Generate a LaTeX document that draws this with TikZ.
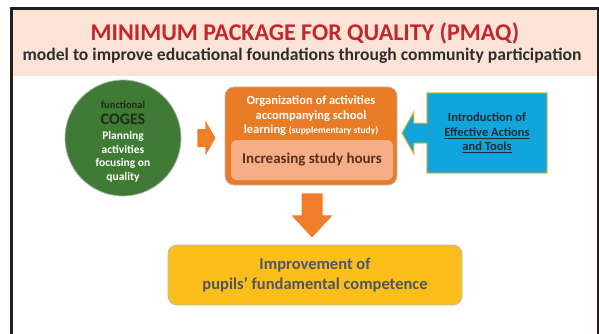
\documentclass[tikz,border=0pt]{standalone}
\usepackage{fontspec}
\setmainfont{Carlito}
\usetikzlibrary{positioning,calc,backgrounds}
\definecolor{frame}{HTML}{231F20}
\definecolor{peach}{HTML}{FCE3D5}
\definecolor{pmaqred}{HTML}{C1272D}
\definecolor{subgray}{HTML}{2E2E2E}
\definecolor{cogesgreen}{HTML}{3F7B35}
\definecolor{cogesink}{HTML}{1F2A1A}
\definecolor{orgorange}{HTML}{E97B27}
\definecolor{arrorange}{HTML}{F07D28}
\definecolor{salmon}{HTML}{F5AE86}
\definecolor{hoursink}{HTML}{5B2E1C}
\definecolor{toolsblue}{HTML}{10A5DB}
\definecolor{toolsedge}{HTML}{F0B733}
\definecolor{toolsink}{HTML}{1D2B3A}
\definecolor{goalyellow}{HTML}{FBBE1B}
\definecolor{goalink}{HTML}{4F5568}
\tikzset{panel/.style={rounded corners=9pt,draw=gray!55,line width=0.8pt},
  blockarrow/.style={fill=arrorange},
  whitetext/.style={text=white,font=\bfseries\fontsize{12.5}{14.5}\selectfont,align=center},
  darktext/.style={font=\bfseries\fontsize{12.5}{14.5}\selectfont,align=center}}

\begin{document}
\begin{tikzpicture}[x=1pt,y=-1pt]
\useasboundingbox (0,0) rectangle (599,334);
% header band and frame
\fill[peach] (11,8) rectangle (598,76);
\draw[frame,line width=3pt] (11.5,334) -- (11.5,8.5) -- (599,8.5);
\draw[frame,line width=1.5pt] (597.8,8) -- (597.8,334);
\node[text=pmaqred,font=\bfseries\fontsize{24}{26}\selectfont] (title) at (305,33) {MINIMUM PACKAGE FOR QUALITY (PMAQ)};
\node[text=subgray,font=\bfseries\fontsize{17.6}{20}\selectfont] (subtitle) at (302,56) {model to improve educational foundations through community participation};
% COGES circle
\node[circle,fill=cogesgreen,draw=gray!60,line width=0.8pt,minimum size=116pt,inner sep=0pt] (coges) at (123,138) {};
\node[whitetext,font=\bfseries\fontsize{11.5}{14}\selectfont] (cogestext) at ($(coges.center)+(0,4)$)
  {{\color{cogesink}\fontsize{10.5}{14}\selectfont functional}\\[2pt]
   {\color{cogesink}\fontsize{16}{16}\selectfont COGES}\\[1pt]
   Planning\\activities\\[-1pt]focusing on\\quality};
% organization box
\node[panel,fill=orgorange,minimum width=172pt,minimum height=98pt] (org) at (311,136) {};
\node[whitetext] (orgtext) at (311,116) {Organization of activities\\accompanying school\\learning {\fontsize{9.5}{11}\selectfont (supplementary study)}};
\node[rounded corners=6pt,fill=salmon,text=hoursink,font=\bfseries\fontsize{15}{16}\selectfont,minimum width=162pt,minimum height=40pt] (hours) at (312,160) {Increasing study hours};
% tools callout
\node[darktext,text=toolsink,minimum width=120pt,minimum height=80pt] (tools) at (487,133)
  {Introduction of\\\underline{Effective Actions}\\\underline{and Tools}};
\begin{scope}[on background layer]
\draw[fill=toolsblue,draw=toolsedge,line width=1pt] (tools.north west) -- (tools.north east) -- (tools.south east) -- (tools.south west)
  -- ($(tools.west)+(0,10)$) -- ($(tools.west)+(-13,10)$) -- ($(tools.west)+(-13,21)$) -- ($(tools.west)+(-25,0)$)
  -- ($(tools.west)+(-13,-21)$) -- ($(tools.west)+(-13,-10)$) -- ($(tools.west)+(0,-10)$) -- cycle;
\end{scope}
% goal box
\node[panel,fill=goalyellow,text=goalink,font=\bfseries\fontsize{16.5}{20}\selectfont,align=center,minimum width=294pt,minimum height=60pt] (goal) at (315,275)
  {Improvement of\\pupils' fundamental competence};
% block arrows
\coordinate (a1) at ($(coges.east)+(16,0)$);
\fill[blockarrow] (a1) +(0,-9) -- +(8,-9) -- +(8,-17.5) -- +(18,0) -- +(8,17.5) -- +(8,9) -- +(0,9) -- cycle;
\coordinate (a2) at ($(org.south)+(1,8)$);
\fill[blockarrow] (a2) +(-10.5,0) -- +(10.5,0) -- +(10.5,22) -- +(20.5,22) -- +(0,44) -- +(-20.5,22) -- +(-10.5,22) -- cycle;
\end{tikzpicture}
\end{document}
